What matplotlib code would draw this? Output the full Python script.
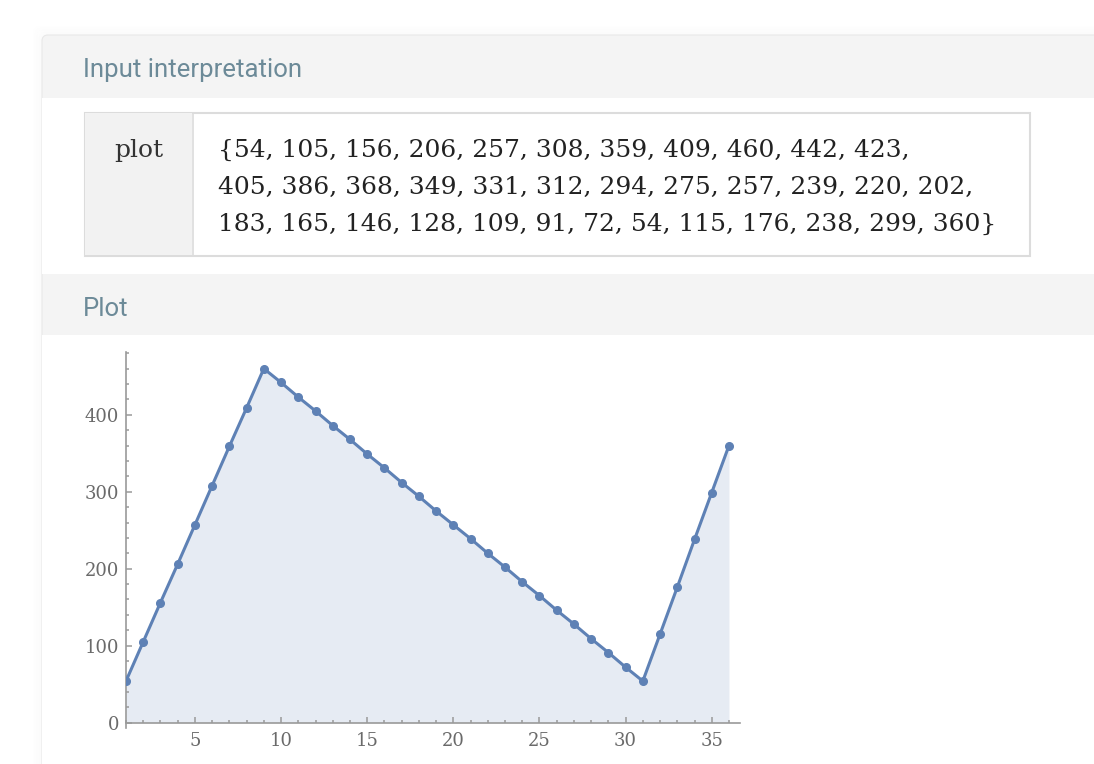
import numpy as np
import matplotlib.pyplot as plt
from matplotlib.patches import Rectangle, FancyBboxPatch
from matplotlib.ticker import MultipleLocator

# list entered in the query
values = [54, 105, 156, 206, 257, 308, 359, 409, 460, 442, 423,
          405, 386, 368, 349, 331, 312, 294, 275, 257, 239, 220, 202,
          183, 165, 146, 128, 109, 91, 72, 54, 115, 176, 238, 299, 360]
x = np.arange(1, len(values) + 1)

x_major = [5, 10, 15, 20, 25, 30, 35]
y_major = [0, 100, 200, 300, 400]

line_breaks = [11, 23]  # where the input text wraps

fig = plt.figure(figsize=(10.94, 7.64), dpi=100)

# page background drawn in pixel coordinates
bg = fig.add_axes([0, 0, 1, 1])
bg.set_xlim(0, 1094)
bg.set_ylim(764, 0)
bg.axis('off')

# soft shadow round the card
for i, a in enumerate([0.012, 0.010, 0.008, 0.006, 0.004]):
    bg.add_patch(FancyBboxPatch((42 - i * 2, 35 - i * 2), 1100, 800,
                                boxstyle='round,pad=0,rounding_size=6',
                                fc='none', ec='black', lw=2, alpha=a))
bg.add_patch(FancyBboxPatch((42, 35), 1100, 800, boxstyle='round,pad=0,rounding_size=6',
                            fc='#f4f4f4', ec='#e8e8e8', lw=0.8))
bg.add_patch(Rectangle((42, 97.7), 1060, 176, fc='white', ec='none'))
bg.add_patch(Rectangle((42, 335), 1060, 440, fc='white', ec='none'))

bg.text(83, 77.3, 'Input interpretation', family='Roboto', fontsize=18.5,
        color='#6c8a98', va='baseline')
bg.text(83, 315.5, 'Plot', family='Roboto', fontsize=18.5,
        color='#6c8a98', va='baseline')

# input table
bg.add_patch(Rectangle((84.5, 112.5), 945, 143.5, fc='white', ec='#dcdcdc', lw=1.5))
bg.add_patch(Rectangle((85.3, 113.3), 107, 142, fc='#f2f2f2', ec='none'))
bg.plot([192.5, 192.5], [113, 255.5], color='#dcdcdc', lw=1.2)
bg.text(139, 156.7, 'plot', family='DejaVu Serif', fontsize=18,
        color='#333333', ha='center', va='baseline')

chunks = [values[:line_breaks[0]], values[line_breaks[0]:line_breaks[1]], values[line_breaks[1]:]]
lines = []
for i, c in enumerate(chunks):
    s = ', '.join(str(v) for v in c)
    if i == 0:
        s = '{' + s
    s = s + (',' if i < len(chunks) - 1 else '}')
    lines.append(s)
for i, s in enumerate(lines):
    bg.text(218, 156.7 + i * 37.3, s, family='DejaVu Serif', fontsize=18,
            color='#222222', va='baseline')

# the plot itself
ax = fig.add_axes([126 / 1094, 36 / 764, 614 / 1094, 376.3 / 764])
ax.set_facecolor('none')
ax.set_xlim(1, 36.64)
ax.set_ylim(-7, 482)

ax.fill_between(x, values, 0, color='#e6ebf3', lw=0, zorder=1)
ax.plot(x, values, color='#5e81b5', lw=2.2, marker='o', markersize=5.5, zorder=3)

for s in ['top', 'right']:
    ax.spines[s].set_visible(False)
ax.spines['bottom'].set_position(('data', 0))
for s in ['left', 'bottom']:
    ax.spines[s].set_color('#9a9a9a')
    ax.spines[s].set_linewidth(1.2)

ax.set_xticks(x_major)
ax.set_yticks(y_major)
ax.xaxis.set_minor_locator(MultipleLocator(1))
ax.yaxis.set_minor_locator(MultipleLocator(20))
ax.tick_params(which='both', direction='in', color='#9a9a9a', width=1.1)
ax.tick_params(which='major', length=4.5)
ax.tick_params(which='minor', length=2.5)
ax.tick_params(axis='x', pad=7)
ax.tick_params(axis='y', pad=5)
for lab in ax.get_xticklabels() + ax.get_yticklabels():
    lab.set_family('DejaVu Serif')
    lab.set_fontsize(13)
    lab.set_color('#6a6a6a')

fig.savefig('out.png', dpi=100)
